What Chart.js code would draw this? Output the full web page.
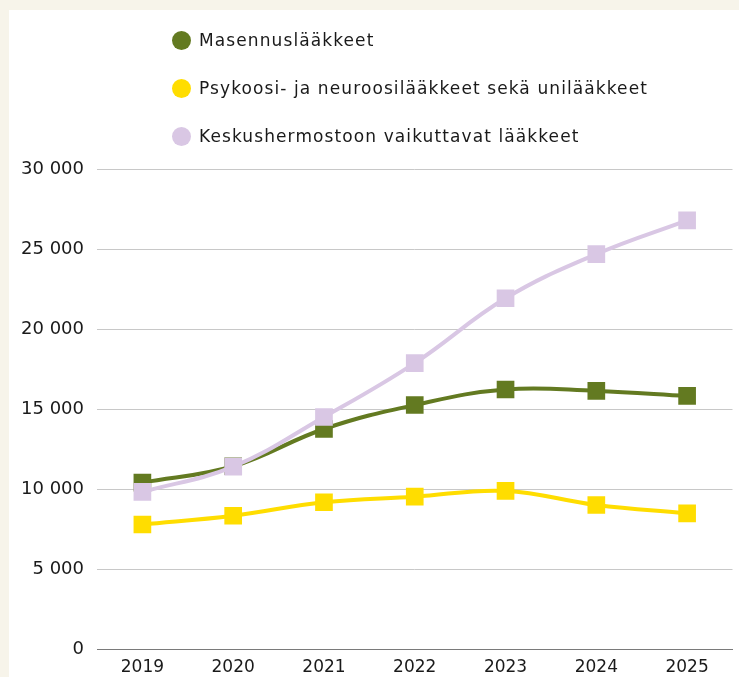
<!DOCTYPE html>
<html lang="fi">
<head>
<meta charset="utf-8">
<script src="https://cdn.jsdelivr.net/npm/chart.js@4"></script>
<style>
  html, body { margin:0; padding:0; }
  body { width:739px; height:677px; background:#f7f4ea; position:relative; overflow:hidden; font-family:"DejaVu Sans", sans-serif; }
  #paneeli { position:absolute; left:9px; top:10px; width:730px; height:667px; background:#fff; overflow:hidden; }
  #paneeli canvas { position:absolute; left:0; top:0; }
  #selite { position:absolute; left:172px; top:27px; margin:0; padding:0; list-style:none; }
  #selite li { height:48px; display:flex; align-items:flex-start; font-size:17px; letter-spacing:1.1px; color:#1a1a1a; line-height:26px; }
  #selite span.pallo { width:19px; height:19px; border-radius:50%; margin:4px 8px 0 0; flex:none; }
</style>
</head>
<body>
<div id="paneeli"><canvas id="kaavio" width="736" height="667"></canvas></div>
<ul id="selite"></ul>
<script>
const vuodet = ['2019', '2020', '2021', '2022', '2023', '2024', '2025'];
const sarjat = ['Masennuslääkkeet', 'Psykoosi- ja neuroosilääkkeet sekä unilääkkeet', 'Keskushermostoon vaikuttavat lääkkeet'];
const masennus = [10400, 11420, 13750, 15250, 16220, 16130, 15820];
const psykoosi = [7780, 8330, 9170, 9520, 9880, 9000, 8480];
const keskus = [9820, 11400, 14500, 17870, 21920, 24680, 26790];
const yTicks = [0, 5000, 10000, 15000, 20000, 25000, 30000];
const varit = ['#637a21', '#ffdd00', '#d9c7e4'];

function muotoile(v) {
  return String(v).replace(/\B(?=(\d{3})+(?!\d))/g, ' ');
}

function sarja(i, arvot, jarjestys) {
  return {
    label: sarjat[i],
    data: arvot,
    borderColor: varit[i],
    backgroundColor: varit[i],
    borderWidth: 4,
    tension: 0.4,
    pointStyle: 'rect',
    pointRadius: 12.5,
    pointHoverRadius: 12.5,
    pointBorderWidth: 0,
    order: jarjestys
  };
}

const chart = new Chart(document.getElementById('kaavio'), {
  type: 'line',
  data: {
    labels: vuodet,
    datasets: [sarja(0, masennus, 3), sarja(1, psykoosi, 2), sarja(2, keskus, 1)]
  },
  options: {
    responsive: false,
    animation: false,
    layout: { padding: { top: 159, right: 7, bottom: 0, left: 0 } },
    plugins: { legend: { display: false }, tooltip: { enabled: false } },
    scales: {
      x: {
        offset: true,
        grid: { display: false },
        border: { display: true, color: '#7a7a7a', width: 1 },
        ticks: { color: '#1a1a1a', font: { family: 'DejaVu Sans', size: 17 }, padding: 0, maxRotation: 0 },
        afterFit: s => { s.height = 28; }
      },
      y: {
        min: 0,
        max: 30000,
        afterBuildTicks: s => { s.ticks = yTicks.map(v => ({ value: v })); },
        grid: { color: '#c8c8c8', lineWidth: 1, drawTicks: false },
        border: { display: false },
        ticks: { color: '#1a1a1a', font: { family: 'DejaVu Sans', size: 18 }, padding: 13, callback: v => muotoile(v) },
        afterFit: s => { s.width = 88; }
      }
    }
  }
});

// selite listana, yksi sarja per rivi
const selite = document.getElementById('selite');
chart.data.datasets.forEach(d => {
  const li = document.createElement('li');
  const pallo = document.createElement('span');
  pallo.className = 'pallo';
  pallo.style.background = d.backgroundColor;
  li.appendChild(pallo);
  li.appendChild(document.createTextNode(d.label));
  selite.appendChild(li);
});
</script>
</body>
</html>
